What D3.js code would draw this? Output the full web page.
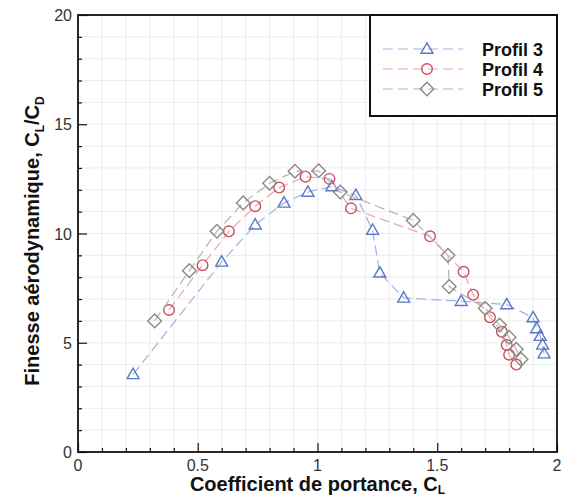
<!DOCTYPE html>
<html>
<head>
<meta charset="utf-8">
<script src="https://cdn.jsdelivr.net/npm/d3@7"></script>
<style>
  html, body { margin: 0; padding: 0; background: #fff; }
  svg { display: block; font-family: "Liberation Sans", Arial, sans-serif; }
</style>
</head>
<body>
<svg id="chart" width="568" height="499"></svg>
<script>
// Lift coefficient (CL) and lift-to-drag ratio (CL/CD) for each profile
const cl3 = [0.23, 0.60, 0.74, 0.86, 0.96, 1.06, 1.16, 1.23, 1.26, 1.36, 1.60, 1.79, 1.90, 1.915, 1.93, 1.94, 1.946];
const f3  = [3.55, 8.7, 10.4, 11.4, 11.9, 12.15, 11.75, 10.15, 8.2, 7.05, 6.9, 6.75, 6.15, 5.65, 5.3, 4.9, 4.5];

const cl4 = [0.38, 0.52, 0.63, 0.74, 0.84, 0.95, 1.05, 1.14, 1.47, 1.61, 1.65, 1.72, 1.77, 1.79, 1.80, 1.83];
const f4  = [6.5, 8.55, 10.1, 11.25, 12.1, 12.6, 12.5, 11.15, 9.87, 8.25, 7.2, 6.17, 5.5, 4.9, 4.45, 4.0];

const cl5 = [0.32, 0.465, 0.58, 0.69, 0.80, 0.906, 1.005, 1.095, 1.40, 1.545, 1.55, 1.70, 1.76, 1.80, 1.83, 1.85];
const f5  = [6.0, 8.3, 10.1, 11.4, 12.3, 12.85, 12.87, 11.9, 10.6, 9.0, 7.57, 6.58, 5.81, 5.25, 4.7, 4.24];

const seriesNames = ["Profil 3", "Profil 4", "Profil 5"];
const xTicks = [0, 0.5, 1, 1.5, 2];
const xTickLabels = ["0", "0.5", "1", "1.5", "2"];
const yTicks = [0, 5, 10, 15, 20];
const yTickLabels = ["0", "5", "10", "15", "20"];

const series = [
  { name: seriesNames[0], x: cl3, y: f3, marker: "triangle", stroke: "#5a78c4", line: "#9fb3e0" },
  { name: seriesNames[1], x: cl4, y: f4, marker: "circle",   stroke: "#c9505c", line: "#e9a3aa" },
  { name: seriesNames[2], x: cl5, y: f5, marker: "diamond",  stroke: "#8a8a8a", line: "#b4b4b4" }
];

const svg = d3.select("#chart");
const plotL = 78, plotR = 557, plotT = 15, plotB = 452;

const x = d3.scaleLinear().domain([0, 2]).range([plotL, plotR]);
const y = d3.scaleLinear().domain([0, 20]).range([plotB, plotT]);

// faint grid at minor-tick spacing
const grid = svg.append("g").attr("stroke", "#ececec").attr("stroke-width", 1);
grid.selectAll("line.v").data(d3.range(1, 20).map(i => i / 10)).join("line")
  .attr("class", "v")
  .attr("x1", d => x(d)).attr("x2", d => x(d)).attr("y1", plotT).attr("y2", plotB);
grid.selectAll("line.h").data(d3.range(1, 20)).join("line")
  .attr("class", "h")
  .attr("y1", d => y(d)).attr("y2", d => y(d)).attr("x1", plotL).attr("x2", plotR);

// inward-pointing axes
const xAxis = svg.append("g").attr("transform", `translate(0,${plotB})`);
xAxis.call(d3.axisTop(x).tickValues(d3.range(0, 21).map(i => i / 10)).tickSize(4).tickFormat(""));
xAxis.selectAll(".tick line").filter(d => xTicks.some(t => Math.abs(t - d) < 1e-9)).attr("y2", -9);
xAxis.select(".domain").remove();
xAxis.selectAll(".tick line").attr("stroke", "#111").attr("stroke-width", 1.2);

const yAxis = svg.append("g").attr("transform", `translate(${plotL},0)`);
yAxis.call(d3.axisRight(y).tickValues(d3.range(0, 21)).tickSize(4).tickFormat(""));
yAxis.selectAll(".tick line").filter(d => yTicks.includes(d)).attr("x2", 9);
yAxis.select(".domain").remove();
yAxis.selectAll(".tick line").attr("stroke", "#111").attr("stroke-width", 1.2);

// tick labels
svg.append("g").selectAll("text").data(xTicks).join("text")
  .attr("x", d => x(d)).attr("y", plotB + 19)
  .attr("text-anchor", "middle").attr("font-size", 16).attr("fill", "#333")
  .text((d, i) => xTickLabels[i]);
svg.append("g").selectAll("text").data(yTicks).join("text")
  .attr("x", plotL - 6).attr("y", d => y(d) + 6)
  .attr("text-anchor", "end").attr("font-size", 16).attr("fill", "#333")
  .text((d, i) => yTickLabels[i]);

// frame
svg.append("rect").attr("x", plotL).attr("y", plotT).attr("width", plotR - plotL).attr("height", plotB - plotT)
  .attr("fill", "none").attr("stroke", "#111").attr("stroke-width", 1.8);

// marker shapes
const symbolPath = {
  triangle: () => "M0,-6.2L6,4.2L-6,4.2Z",
  circle: () => d3.arc()({ innerRadius: 0, outerRadius: 5.3, startAngle: 0, endAngle: 2 * Math.PI }),
  diamond: () => "M0,-6.8L6.8,0L0,6.8L-6.8,0Z"
};

const line = d3.line().x(d => x(d[0])).y(d => y(d[1]));

const plot = svg.append("g");
series.forEach(s => {
  const pts = s.x.map((v, i) => [v, s.y[i]]);
  plot.append("path").datum(pts).attr("d", line)
    .attr("fill", "none").attr("stroke", s.line).attr("stroke-width", 1.2)
    .attr("stroke-dasharray", "10,5");
  plot.append("g").selectAll("path").data(pts).join("path")
    .attr("transform", d => `translate(${x(d[0])},${y(d[1])})`)
    .attr("d", symbolPath[s.marker]())
    .attr("fill", "none").attr("stroke", s.stroke).attr("stroke-width", 1.4);
});

// legend
const lg = svg.append("g");
lg.append("rect").attr("x", 370).attr("y", plotT).attr("width", plotR - 370).attr("height", 101)
  .attr("fill", "#fff").attr("stroke", "#111").attr("stroke-width", 2);
series.forEach((s, i) => {
  const cy = 49 + i * 20;
  lg.append("line").attr("x1", 383).attr("x2", 463).attr("y1", cy).attr("y2", cy)
    .attr("stroke", s.line).attr("stroke-width", 1.2).attr("stroke-dasharray", "10,5");
  lg.append("path").attr("transform", `translate(427,${cy})`).attr("d", symbolPath[s.marker]())
    .attr("fill", "none").attr("stroke", s.stroke).attr("stroke-width", 1.4);
  lg.append("text").attr("x", 482).attr("y", cy + 6.5)
    .attr("font-size", 18).attr("font-weight", "bold").attr("fill", "#111")
    .text(s.name);
});

// axis titles
const xt = svg.append("text").attr("x", (plotL + plotR) / 2).attr("y", 491)
  .attr("text-anchor", "middle").attr("font-size", 20).attr("font-weight", "bold").attr("fill", "#111");
xt.append("tspan").text("Coefficient de portance, C");
xt.append("tspan").attr("font-size", 12).attr("dy", 3).text("L");

const yt = svg.append("text").attr("transform", "translate(39,241) rotate(-90)")
  .attr("text-anchor", "middle").attr("font-size", 20).attr("font-weight", "bold").attr("fill", "#111");
yt.append("tspan").text("Finesse aérodynamique, C");
yt.append("tspan").attr("font-size", 12).attr("dy", 5).text("L");
yt.append("tspan").attr("dy", -5).text("/C");
yt.append("tspan").attr("font-size", 12).attr("dy", 5).text("D");
</script>
</body>
</html>
